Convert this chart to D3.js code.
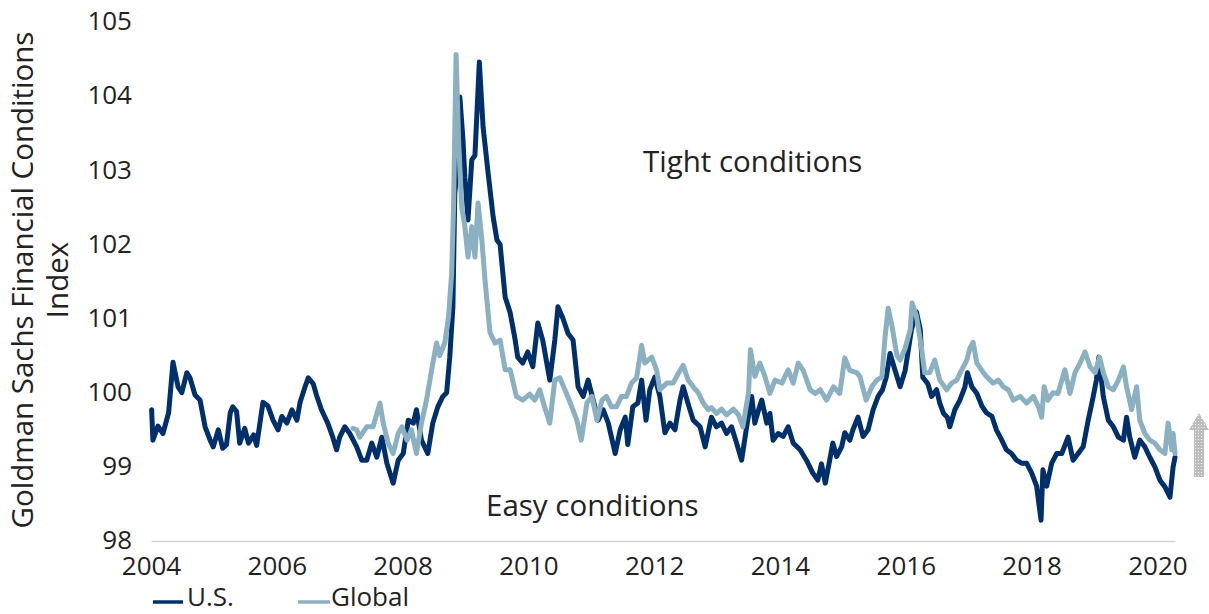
<!DOCTYPE html>
<html>
<head>
<meta charset="utf-8">
<script src="https://cdn.jsdelivr.net/npm/d3@7"></script>
<style>
  html, body { margin: 0; padding: 0; background: #ffffff; }
  svg { display: block; }
  text { font-family: "Open Sans", "Noto Sans", sans-serif; fill: #222222; }
</style>
</head>
<body>
<svg id="chart" width="1209" height="614"></svg>
<script>
// ---------- DATA ----------
const xTicks = [2004, 2006, 2008, 2010, 2012, 2014, 2016, 2018, 2020];
const yTicks = [98, 99, 100, 101, 102, 103, 104, 105];
const seriesNames = ["U.S.", "Global"];
const yTitleLines = ["Goldman Sachs Financial Conditions", "Index"];
const annotations = ["Tight conditions", "Easy conditions"];

// U.S. index (decimal year, value)
const usDates = [
  2004.01, 2004.03, 2004.11, 2004.19, 2004.28, 2004.35, 2004.43, 2004.49, 2004.57, 2004.62,
  2004.70, 2004.78, 2004.86, 2004.94, 2004.99, 2005.07, 2005.14, 2005.20, 2005.26, 2005.30,
  2005.36, 2005.41, 2005.49, 2005.55, 2005.63, 2005.68, 2005.78, 2005.86, 2005.94, 2006.02,
  2006.08, 2006.16, 2006.24, 2006.32, 2006.37, 2006.45, 2006.50, 2006.58, 2006.63, 2006.71,
  2006.81, 2006.89, 2006.95, 2007.00, 2007.08, 2007.16, 2007.27, 2007.35, 2007.43, 2007.51,
  2007.59, 2007.67, 2007.75, 2007.85, 2007.93, 2008.01, 2008.09, 2008.17, 2008.22, 2008.30,
  2008.40, 2008.48, 2008.56, 2008.64, 2008.70, 2008.75, 2008.80, 2008.83, 2008.88, 2008.91,
  2008.96, 2008.99, 2009.04, 2009.10, 2009.15, 2009.22, 2009.28, 2009.36, 2009.44, 2009.50,
  2009.55, 2009.63, 2009.71, 2009.79, 2009.83, 2009.91, 2009.99, 2010.07, 2010.15, 2010.23,
  2010.34, 2010.42, 2010.47, 2010.55, 2010.63, 2010.71, 2010.79, 2010.87, 2010.95, 2011.03,
  2011.11, 2011.19, 2011.27, 2011.38, 2011.46, 2011.54, 2011.58, 2011.66, 2011.74, 2011.80,
  2011.87, 2011.93, 2012.01, 2012.09, 2012.17, 2012.25, 2012.33, 2012.41, 2012.46, 2012.54,
  2012.62, 2012.73, 2012.81, 2012.91, 2012.99, 2013.07, 2013.15, 2013.23, 2013.31, 2013.39,
  2013.47, 2013.55, 2013.60, 2013.66, 2013.71, 2013.79, 2013.84, 2013.89, 2013.97, 2014.05,
  2014.13, 2014.21, 2014.32, 2014.42, 2014.52, 2014.60, 2014.66, 2014.72, 2014.79, 2014.84,
  2014.90, 2014.98, 2015.03, 2015.11, 2015.16, 2015.24, 2015.32, 2015.40, 2015.48, 2015.56,
  2015.63, 2015.69, 2015.75, 2015.83, 2015.91, 2015.99, 2016.09, 2016.17, 2016.23, 2016.27,
  2016.35, 2016.41, 2016.49, 2016.54, 2016.60, 2016.66, 2016.70, 2016.78, 2016.86, 2016.94,
  2016.98, 2017.05, 2017.13, 2017.21, 2017.28, 2017.37, 2017.44, 2017.52, 2017.60, 2017.68,
  2017.76, 2017.84, 2017.92, 2018.00, 2018.08, 2018.15, 2018.18, 2018.24, 2018.32, 2018.40,
  2018.48, 2018.58, 2018.66, 2018.74, 2018.82, 2018.90, 2018.98, 2019.03, 2019.07, 2019.14,
  2019.22, 2019.30, 2019.38, 2019.46, 2019.51, 2019.56, 2019.64, 2019.72, 2019.80, 2019.88,
  2019.96, 2020.04, 2020.12, 2020.20, 2020.25, 2020.28
];
const usValues = [
  99.77, 99.36, 99.55, 99.45, 99.73, 100.41, 100.08, 100.00, 100.27, 100.20,
  99.97, 99.90, 99.54, 99.36, 99.27, 99.50, 99.25, 99.30, 99.73, 99.81,
  99.75, 99.32, 99.52, 99.32, 99.43, 99.29, 99.87, 99.82, 99.63, 99.50,
  99.68, 99.59, 99.77, 99.63, 99.87, 100.08, 100.20, 100.12, 99.97, 99.77,
  99.59, 99.40, 99.23, 99.40, 99.54, 99.45, 99.27, 99.09, 99.09, 99.32,
  99.13, 99.40, 99.05, 98.78, 99.09, 99.18, 99.63, 99.59, 99.77, 99.36,
  99.18, 99.59, 99.81, 99.95, 100.00, 100.48, 101.16, 102.69, 103.10, 103.99,
  103.41, 102.90, 102.33, 103.14, 103.20, 104.46, 103.58, 102.96, 102.37, 102.06,
  102.00, 101.29, 101.08, 100.71, 100.48, 100.40, 100.55, 100.35, 100.94, 100.70,
  100.17, 100.71, 101.16, 101.00, 100.80, 100.71, 100.08, 99.95, 100.17, 99.90,
  99.63, 99.77, 99.59, 99.18, 99.50, 99.67, 99.30, 99.81, 99.86, 100.17,
  99.63, 100.04, 100.21, 99.95, 99.46, 99.59, 99.50, 99.90, 100.08, 99.85,
  99.63, 99.54, 99.27, 99.67, 99.54, 99.59, 99.45, 99.54, 99.32, 99.09,
  99.54, 99.95, 99.59, 99.77, 99.90, 99.59, 99.72, 99.36, 99.45, 99.41,
  99.54, 99.32, 99.23, 99.09, 98.92, 98.82, 99.04, 98.78, 99.09, 99.32,
  99.14, 99.27, 99.46, 99.36, 99.50, 99.67, 99.41, 99.50, 99.77, 99.95,
  100.04, 100.21, 100.53, 100.30, 100.08, 100.30, 100.85, 101.09, 100.85, 100.21,
  100.12, 99.95, 100.04, 99.86, 99.72, 99.67, 99.54, 99.77, 99.90, 100.08,
  100.27, 100.08, 99.99, 99.82, 99.73, 99.68, 99.50, 99.37, 99.23, 99.18,
  99.09, 99.05, 99.05, 98.92, 98.74, 98.28, 98.96, 98.74, 99.05, 99.18,
  99.18, 99.40, 99.09, 99.18, 99.27, 99.63, 99.95, 100.17, 100.48, 99.95,
  99.63, 99.54, 99.40, 99.36, 99.67, 99.40, 99.13, 99.36, 99.27, 99.13,
  99.00, 98.82, 98.73, 98.59, 99.00, 99.13
];

// Global index (decimal year, value)
const globalDates = [
  2007.21, 2007.27, 2007.32, 2007.43, 2007.53, 2007.64, 2007.69, 2007.77, 2007.85, 2007.93,
  2007.99, 2008.07, 2008.14, 2008.22, 2008.30, 2008.38, 2008.46, 2008.54, 2008.59, 2008.67,
  2008.73, 2008.78, 2008.81, 2008.85, 2008.89, 2008.94, 2008.99, 2009.04, 2009.10, 2009.15,
  2009.20, 2009.26, 2009.31, 2009.39, 2009.47, 2009.55, 2009.63, 2009.71, 2009.81, 2009.91,
  2010.02, 2010.10, 2010.18, 2010.26, 2010.34, 2010.42, 2010.50, 2010.58, 2010.69, 2010.77,
  2010.84, 2010.93, 2011.01, 2011.09, 2011.17, 2011.24, 2011.32, 2011.40, 2011.48, 2011.56,
  2011.64, 2011.72, 2011.80, 2011.85, 2011.96, 2012.04, 2012.09, 2012.20, 2012.30, 2012.39,
  2012.46, 2012.54, 2012.62, 2012.70, 2012.78, 2012.86, 2012.91, 2012.99, 2013.07, 2013.15,
  2013.26, 2013.34, 2013.41, 2013.50, 2013.53, 2013.60, 2013.68, 2013.76, 2013.84, 2013.92,
  2014.03, 2014.13, 2014.21, 2014.29, 2014.37, 2014.48, 2014.56, 2014.64, 2014.74, 2014.85,
  2014.95, 2015.03, 2015.11, 2015.22, 2015.27, 2015.37, 2015.46, 2015.54, 2015.62, 2015.67,
  2015.72, 2015.78, 2015.86, 2015.91, 2015.99, 2016.07, 2016.10, 2016.17, 2016.25, 2016.30,
  2016.38, 2016.46, 2016.54, 2016.65, 2016.73, 2016.81, 2016.89, 2016.97, 2017.02, 2017.07,
  2017.13, 2017.21, 2017.28, 2017.39, 2017.47, 2017.55, 2017.63, 2017.71, 2017.82, 2017.92,
  2018.03, 2018.11, 2018.16, 2018.20, 2018.26, 2018.34, 2018.42, 2018.53, 2018.61, 2018.69,
  2018.77, 2018.85, 2018.93, 2019.01, 2019.08, 2019.14, 2019.22, 2019.30, 2019.38, 2019.46,
  2019.51, 2019.59, 2019.67, 2019.72, 2019.80, 2019.88, 2019.96, 2020.04, 2020.12, 2020.17,
  2020.23, 2020.25, 2020.28
];
const globalValues = [
  99.52, 99.50, 99.40, 99.54, 99.54, 99.86, 99.60, 99.32, 99.18, 99.45,
  99.54, 99.36, 99.50, 99.18, 99.59, 99.90, 100.30, 100.67, 100.50, 100.67,
  101.02, 101.61, 102.50, 104.56, 103.41, 102.50, 102.24, 101.83, 102.24, 101.83,
  102.56, 102.06, 101.52, 100.81, 100.67, 100.71, 100.31, 100.31, 99.95, 99.90,
  99.98, 99.90, 100.04, 99.80, 99.59, 100.17, 100.20, 100.04, 99.81, 99.63,
  99.36, 99.86, 99.95, 99.63, 99.90, 99.95, 99.81, 99.81, 99.95, 99.95,
  100.13, 100.20, 100.64, 100.40, 100.48, 100.30, 100.04, 100.13, 100.13, 100.27,
  100.37, 100.17, 100.08, 100.00, 99.86, 99.77, 99.80, 99.72, 99.78, 99.70,
  99.78, 99.70, 99.54, 100.00, 100.58, 100.22, 100.40, 100.22, 99.99, 100.17,
  100.13, 100.31, 100.13, 100.40, 100.30, 100.04, 99.99, 100.04, 99.90, 100.08,
  99.99, 100.47, 100.30, 100.27, 100.22, 99.90, 100.08, 100.17, 100.21, 100.75,
  101.14, 100.90, 100.50, 100.44, 100.60, 100.85, 101.21, 101.03, 100.60, 100.27,
  100.27, 100.44, 100.17, 100.04, 100.13, 100.17, 100.31, 100.44, 100.60, 100.68,
  100.40, 100.30, 100.22, 100.13, 100.17, 100.08, 100.04, 99.90, 99.95, 99.86,
  99.95, 99.81, 99.67, 100.08, 99.90, 100.00, 99.99, 100.31, 99.99, 100.27,
  100.40, 100.55, 100.35, 100.27, 100.48, 100.27, 100.08, 100.04, 100.17, 100.35,
  100.08, 99.77, 100.08, 99.63, 99.45, 99.36, 99.32, 99.23, 99.18, 99.59,
  99.23, 99.45, 99.18
];

// ---------- STYLE ----------
const usColor = "#00306b";
const globalColor = "#8bb0c1";

const svg = d3.select("#chart");

const x = d3.scaleLinear().domain([2004, 2020.28]).range([151, 1175]);
const y = d3.scaleLinear().domain([98, 105]).range([541, 22]);

// dotted pattern for arrow
const defs = svg.append("defs");
const pat = defs.append("pattern")
  .attr("id", "dots").attr("patternUnits", "userSpaceOnUse")
  .attr("width", 3).attr("height", 3);
pat.append("rect").attr("width", 3).attr("height", 3).attr("fill", "#bdbdbd");
pat.append("rect").attr("x", 1).attr("y", 1).attr("width", 1).attr("height", 1).attr("fill", "#f2f2f2");

// X axis
const xAxis = d3.axisBottom(x)
  .tickValues(xTicks)
  .tickFormat(d3.format("d"))
  .tickSize(0)
  .tickSizeOuter(0)
  .tickPadding(16);
const gx = svg.append("g").attr("transform", "translate(0,541)").call(xAxis);
gx.select(".domain").attr("stroke", "#d4d4d4").attr("stroke-width", 1.5);
gx.selectAll("text").style("font-size", "26px").attr("fill", "#222");

// Y axis (labels only)
const yAxis = d3.axisLeft(y)
  .tickValues(yTicks)
  .tickFormat(d3.format("d"))
  .tickSize(0)
  .tickPadding(19);
const gy = svg.append("g").attr("transform", "translate(151,0)").call(yAxis);
gy.select(".domain").remove();
gy.selectAll("text").style("font-size", "26px").attr("fill", "#222").attr("dy", "0.3em");

// Y title
const yt = svg.append("text")
  .attr("transform", "translate(33,280) rotate(-90)")
  .attr("text-anchor", "middle")
  .style("font-size", "29.5px");
yt.append("tspan").attr("x", 0).attr("y", 0).text(yTitleLines[0]);
yt.append("tspan").attr("x", 0).attr("y", 35).text(yTitleLines[1]);

// Lines
const line = d3.line().x(d => x(d[0])).y(d => y(d[1]));
const usData = usDates.map((d, i) => [d, usValues[i]]);
const glData = globalDates.map((d, i) => [d, globalValues[i]]);

svg.append("path").datum(usData)
  .attr("d", line).attr("fill", "none")
  .attr("stroke", usColor).attr("stroke-width", 5)
  .attr("stroke-linejoin", "round").attr("stroke-linecap", "round");

svg.append("path").datum(glData)
  .attr("d", line).attr("fill", "none")
  .attr("stroke", globalColor).attr("stroke-width", 5)
  .attr("stroke-linejoin", "round").attr("stroke-linecap", "round");

// Annotations
svg.append("text").attr("x", 643).attr("y", 172).style("font-size", "29.5px").text(annotations[0]);
svg.append("text").attr("x", 486).attr("y", 516).style("font-size", "29.5px").text(annotations[1]);

// Arrow (upward, dotted)
svg.append("path")
  .attr("d", "M1199,413 L1209,430 L1204,430 L1204,477 L1194,477 L1194,430 L1189,430 Z")
  .attr("fill", "url(#dots)");

// Legend
const legendItems = [
  { name: seriesNames[0], color: usColor, x1: 153, x2: 183, tx: 187 },
  { name: seriesNames[1], color: globalColor, x1: 298, x2: 330, tx: 331 }
];
const lg = svg.append("g");
legendItems.forEach(it => {
  lg.append("line").attr("x1", it.x1).attr("x2", it.x2).attr("y1", 602).attr("y2", 602)
    .attr("stroke", it.color).attr("stroke-width", 3.5);
  lg.append("text").attr("x", it.tx).attr("y", 606).style("font-size", "26px").text(it.name);
});
</script>
</body>
</html>
